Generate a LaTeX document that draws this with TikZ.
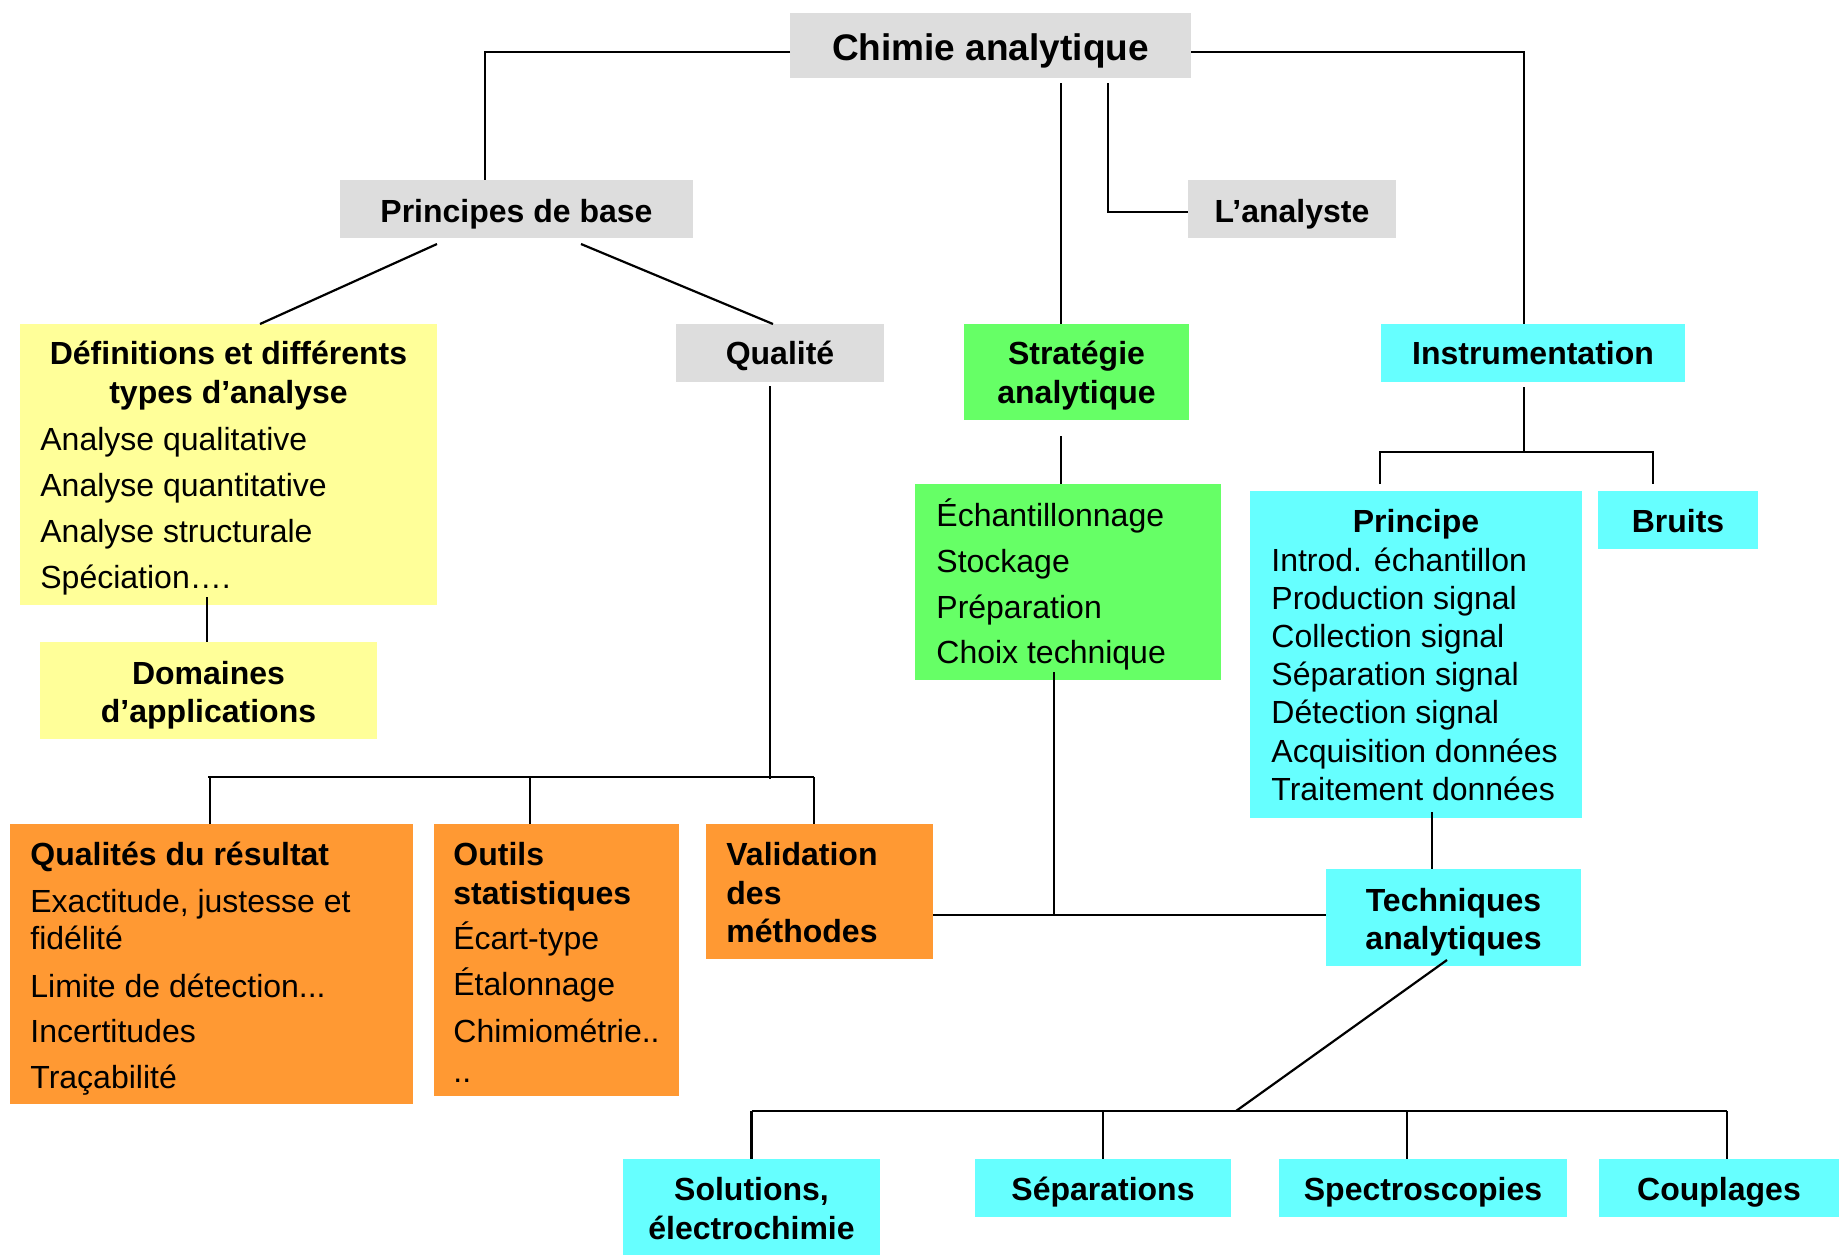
\documentclass[tikz,border=0pt]{standalone}
\usepackage{fontspec}
\setmainfont{Liberation Sans}
\usetikzlibrary{calc,fit}
\definecolor{cgray}{HTML}{DDDDDD}
\definecolor{cyel}{HTML}{FFFF99}
\definecolor{cgreen}{HTML}{66FF66}
\definecolor{ccyan}{HTML}{66FFFF}
\definecolor{corange}{HTML}{FF9933}
\begin{document}
\begin{tikzpicture}[x=0.5pt,y=-0.5pt,
  box/.style={inner sep=0pt, outer sep=0pt, draw=none},
  conn/.style={line width=1.1pt, black},
  tb/.style={anchor=base, inner sep=0pt, font=\fontsize{16pt}{19pt}\selectfont\bfseries},
  tbl/.style={anchor=base west, inner sep=0pt, font=\fontsize{16pt}{19pt}\selectfont\bfseries},
  tr/.style={anchor=base west, inner sep=0pt, font=\fontsize{16pt}{19pt}\selectfont},
]
\path[use as bounding box, fill=white] (0,0) rectangle (1843,1255);

% ---------- boxes ----------
\node[box, fill=cgray,   fit={(790,13) (1191,78)}]   (chimie) {};
\node[box, fill=cgray,   fit={(340,180) (693,238)}]  (principes) {};
\node[box, fill=cgray,   fit={(1188,180) (1396,238)}] (analyste) {};
\node[box, fill=cyel,    fit={(20,324) (437,605)}]   (defs) {};
\node[box, fill=cgray,   fit={(676,324) (884,382)}]  (qualite) {};
\node[box, fill=cgreen,  fit={(964,324) (1189,420)}] (strategie) {};
\node[box, fill=ccyan,   fit={(1381,324) (1685,382)}] (instrum) {};
\node[box, fill=cyel,    fit={(40,642) (377,739)}]   (domaines) {};
\node[box, fill=cgreen,  fit={(915,484) (1221,680)}] (echant) {};
\node[box, fill=ccyan,   fit={(1250,491) (1582,818)}] (principe) {};
\node[box, fill=ccyan,   fit={(1598,491) (1758,549)}] (bruits) {};
\node[box, fill=corange, fit={(10,824) (413,1104)}]  (qualres) {};
\node[box, fill=corange, fit={(434,824) (679,1096)}] (outils) {};
\node[box, fill=corange, fit={(706,824) (933,959)}]  (valid) {};
\node[box, fill=ccyan,   fit={(1326,869) (1581,966)}] (techn) {};
\node[box, fill=ccyan,   fit={(623,1159) (880,1255)}] (solutions) {};
\node[box, fill=ccyan,   fit={(975,1159) (1231,1217)}] (separ) {};
\node[box, fill=ccyan,   fit={(1279,1159) (1567,1217)}] (spectro) {};
\node[box, fill=ccyan,   fit={(1599,1159) (1839,1217)}] (coupl) {};

% ---------- junction coordinates ----------
\coordinate (qbar) at (770,779);
\coordinate (ejn) at (1054,915);
\coordinate (ibar) at (1524,452);
\coordinate (tbar) at (1236,1111);

% ---------- connectors ----------
\draw[conn] ($(chimie.west)+(0,6.5)$) -| ($(principes.north)+(-31.5,0)$);
\draw[conn] ($(chimie.east)+(0,6.5)$) -| ($(instrum.north)+(-9,0)$);
\draw[conn] ($(chimie.south)+(70.5,5)$) -- ($(strategie.north)+(-15.5,0)$);
\draw[conn] ($(chimie.south)+(117.5,5)$) |- ($(analyste.west)+(0,3)$);
\draw[conn] ($(principes.south)+(-79.5,6)$) -- ($(defs.north)+(31.5,0)$);
\draw[conn] ($(principes.south)+(64.5,6)$) -- ($(qualite.north)+(-7,0)$);
\draw[conn] ($(defs.south)+(-21.5,-8)$) -- ($(domaines.north)+(-1.5,0)$);
% qualite branch
\draw[conn] ($(qualite.south)+(-10,4)$) -- (qbar);
\draw[conn] ($(qualres.north)+(-3.5,-47)$) -- ($(valid.north)+(-5.5,-47)$);
\draw[conn] ($(qualres.north)+(-1.5,-47)$) -- ($(qualres.north)+(-1.5,0)$);
\draw[conn] ($(outils.north)+(-26.5,-47)$) -- ($(outils.north)+(-26.5,0)$);
\draw[conn] ($(valid.north)+(-5.5,-47)$) -- ($(valid.north)+(-5.5,0)$);
% strategie branch
\draw[conn] ($(strategie.south)+(-15.5,16)$) -- ($(echant.north)+(-7,0)$);
\draw[conn] ($(echant.south)+(-14,-8)$) -- (ejn);
\draw[conn] (valid.east |- ejn) -- (techn.west |- ejn);
% instrumentation branch
\draw[conn] ($(instrum.south)+(-9,5)$) -- (ibar);
\draw[conn] ($(principe.north)+(-36,-7)$) |- ($(bruits.north)+(-25,-39)$) -- ($(bruits.north)+(-25,-7)$);
\draw[conn] ($(principe.south)+(16,-6)$) -- ($(techn.north)+(-21.5,0)$);
% techniques branch
\draw[conn] ($(techn.south)+(-6.5,-6)$) -- (tbar);
\draw[conn] ($(solutions.north)+(0,-48)$) -- ($(coupl.north)+(8,-48)$);
\draw[conn] ($(solutions.north)+(0,-48)$) -- (solutions.north);
\draw[conn] ($(separ.north)+(0,-48)$) -- (separ.north);
\draw[conn] ($(spectro.north)+(-16,-48)$) -- ($(spectro.north)+(-16,0)$);
\draw[conn] ($(coupl.north)+(8,-48)$) -- ($(coupl.north)+(8,0)$);

% ---------- texts ----------
\node[tb, font=\fontsize{18.5pt}{22pt}\selectfont\bfseries] (tChimie) at (990.5,60) {Chimie analytique};
\node[tb] (tPrinc) at (516.5,222) {Principes de base};
\node[tb] (tAnal) at (1292,222) {L’analyste};
\node[tb] (tDef1) at (228.5,364) {Définitions et différents};
\node[tb] (tDef2) at (228.5,403) {types d’analyse};
\node[tr] (tDef3) at (40,450) {Analyse qualitative};
\node[tr] (tDef4) at (40,496) {Analyse quantitative};
\node[tr] (tDef5) at (40,542) {Analyse structurale};
\node[tr] (tDef6) at (40,588) {Spéciation….};
\node[tb] (tQual) at (780,364) {Qualité};
\node[tb] (tStr1) at (1076.5,364) {Stratégie};
\node[tb] (tStr2) at (1076.5,403) {analytique};
\node[tb] (tInst) at (1533,364) {Instrumentation};
\node[tr] (tEch1) at (936,526) {Échantillonnage};
\node[tr] (tEch2) at (936,572) {Stockage};
\node[tr] (tEch3) at (936,618) {Préparation};
\node[tr] (tEch4) at (936,663) {Choix technique};
\node[tb] (tPr0) at (1416,532) {Principe};
\node[tr] (tPr1) at (1271,571) {Introd. échantillon};
\node[tr] (tPr2) at (1271,609) {Production signal};
\node[tr] (tPr3) at (1271,647) {Collection signal};
\node[tr] (tPr4) at (1271,685) {Séparation signal};
\node[tr] (tPr5) at (1271,723) {Détection signal};
\node[tr] (tPr6) at (1271,762) {Acquisition données};
\node[tr] (tPr7) at (1271,800) {Traitement données};
\node[tb] (tBru) at (1678,532) {Bruits};
\node[tb] (tDom1) at (208.5,684) {Domaines};
\node[tb] (tDom2) at (208.5,722) {d’applications};
\node[tbl] (tQr0) at (30,865) {Qualités du résultat};
\node[tr] (tQr1) at (30,912) {Exactitude, justesse et};
\node[tr] (tQr2) at (30,949) {fidélité};
\node[tr] (tQr3) at (30,997) {Limite de détection...};
\node[tr] (tQr4) at (30,1042) {Incertitudes};
\node[tr] (tQr5) at (30,1088) {Traçabilité};
\node[tbl] (tOu1) at (453,865) {Outils};
\node[tbl] (tOu2) at (453,904) {statistiques};
\node[tr] (tOu3) at (453,949) {Écart-type};
\node[tr] (tOu4) at (453,995) {Étalonnage};
\node[tr] (tOu5) at (453,1042) {Chimiométrie..};
\node[tr] (tOu6) at (453,1082) {..};
\node[tbl] (tVa1) at (726,865) {Validation};
\node[tbl] (tVa2) at (726,904) {des};
\node[tbl] (tVa3) at (726,942) {méthodes};
\node[tb] (tTe1) at (1453.5,911) {Techniques};
\node[tb] (tTe2) at (1453.5,949) {analytiques};
\node[tb] (tSo1) at (751.5,1200) {Solutions,};
\node[tb] (tSo2) at (751.5,1239) {électrochimie};
\node[tb] (tSep) at (1103,1200) {Séparations};
\node[tb] (tSpe) at (1423,1200) {Spectroscopies};
\node[tb] (tCou) at (1719,1200) {Couplages};
\end{tikzpicture}
\end{document}
